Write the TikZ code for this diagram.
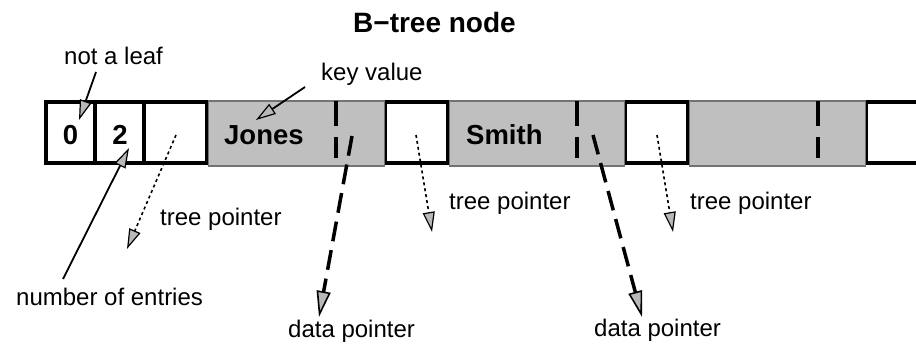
\documentclass[tikz,border=0pt]{standalone}
\usepackage{fontspec}
\setmainfont{Liberation Sans}
\usetikzlibrary{arrows.meta}
\definecolor{cellgray}{gray}{0.75}
\definecolor{edgegray}{gray}{0.45}
\definecolor{tipgray}{gray}{0.72}
\begin{document}
\begin{tikzpicture}[x=1pt,y=-1pt,
  cell/.style={draw=black,line width=3.5pt,fill=white,inner sep=0pt,outer sep=0pt,anchor=north west,minimum height=61pt},
  graybox/.style={draw=edgegray,line width=1.2pt,fill=cellgray,inner sep=0pt,outer sep=0pt,anchor=north west,minimum height=65pt},
  sepline/.style={line width=3.5pt,dash pattern=on 25pt off 11pt},
  lbl/.style={font=\fontsize{24}{28}\selectfont,inner sep=0pt,anchor=base west},
  boldlbl/.style={font=\fontsize{27.5}{32}\selectfont\bfseries,inner sep=0pt,anchor=base west},
  titlelbl/.style={font=\fontsize{28}{32}\selectfont\bfseries,inner sep=0pt,anchor=base west},
  leader/.style={line width=1.8pt,-{Triangle[length=20pt,width=12pt,fill=tipgray,line width=1.2pt]}},
  treeptr/.style={line width=1.6pt,dash pattern=on 3pt off 3pt,-{Triangle[length=20pt,width=12pt,fill=tipgray,line width=1.2pt]}},
  dataptr/.style={line width=3.5pt,dash pattern=on 20pt off 9pt,-{Triangle[length=26pt,width=14pt,fill=tipgray,line width=1.6pt]}}
]
\useasboundingbox (0,0) rectangle (916,344);
\clip (0,0) rectangle (916,344);
\fill[white] (0,0) rectangle (916,344);

% white cells
\node[cell,minimum width=49pt] (c0) at (46,102) {};
\node[cell,minimum width=49pt] (c1) at (95,102) {};
\node[cell,minimum width=63pt] (c2) at (144,102) {};
\node[cell,minimum width=63pt] (c3) at (385,102) {};
\node[cell,minimum width=63pt] (c4) at (625,102) {};
\node[cell,minimum width=70pt] (c5) at (866,102) {};

% gray key/data cells
\node[graybox,minimum width=176pt] (g1) at (208.5,101) {};
\node[graybox,minimum width=175pt] (g2) at (449.5,101) {};
\node[graybox,minimum width=176pt] (g3) at (689.5,101) {};

% dashed separators between key and data pointer
\draw[sepline] (336,101) -- (336,158);
\draw[sepline] (577,101) -- (577,158);
\draw[sepline] (818,101) -- (818,158);

% cell contents
\node[boldlbl,anchor=base] (t0) at (70.5,145) {0};
\node[boldlbl,anchor=base] (t2) at (120,145) {2};
\node[boldlbl] (jones) at (224,145) {Jones};
\node[boldlbl] (smith) at (466,145) {Smith};

% title and labels
\node[titlelbl] (title) at (353,33) {B−tree node};
\node[lbl] (nleaf) at (64,65) {not a leaf};
\node[lbl] (keyv) at (321,81) {key value};
\node[lbl] (nent) at (16,306) {number of entries};
\node[lbl] (tp1) at (160,226) {tree pointer};
\node[lbl] (tp2) at (449,210) {tree pointer};
\node[lbl] (tp3) at (690,210) {tree pointer};
\node[lbl] (dp1) at (288,338) {data pointer};
\node[lbl] (dp2) at (594,337) {data pointer};

% connector end points
\coordinate (nlS) at (96,72);   \coordinate (nlT) at (79,120);
\coordinate (kvS) at (305,87);  \coordinate (kvT) at (256,120);
\coordinate (neS) at (63,279);  \coordinate (neT) at (129,148);
\coordinate (tr1S) at (176,135); \coordinate (tr1T) at (127,249);
\coordinate (tr2S) at (416,135); \coordinate (tr2T) at (432,232);
\coordinate (tr3S) at (657,135); \coordinate (tr3T) at (673,232);
\coordinate (da1S) at (352,136); \coordinate (da1T) at (319,317);
\coordinate (da2S) at (593,135); \coordinate (da2T) at (642,317);

% connectors
\draw[leader] (nlS) -- (nlT);
\draw[leader] (kvS) -- (kvT);
\draw[leader] (neS) -- (neT);
\draw[treeptr] (tr1S) -- (tr1T);
\draw[treeptr] (tr2S) -- (tr2T);
\draw[treeptr] (tr3S) -- (tr3T);
\draw[dataptr] (da1S) -- (da1T);
\draw[dataptr] (da2S) -- (da2T);
\end{tikzpicture}
\end{document}
